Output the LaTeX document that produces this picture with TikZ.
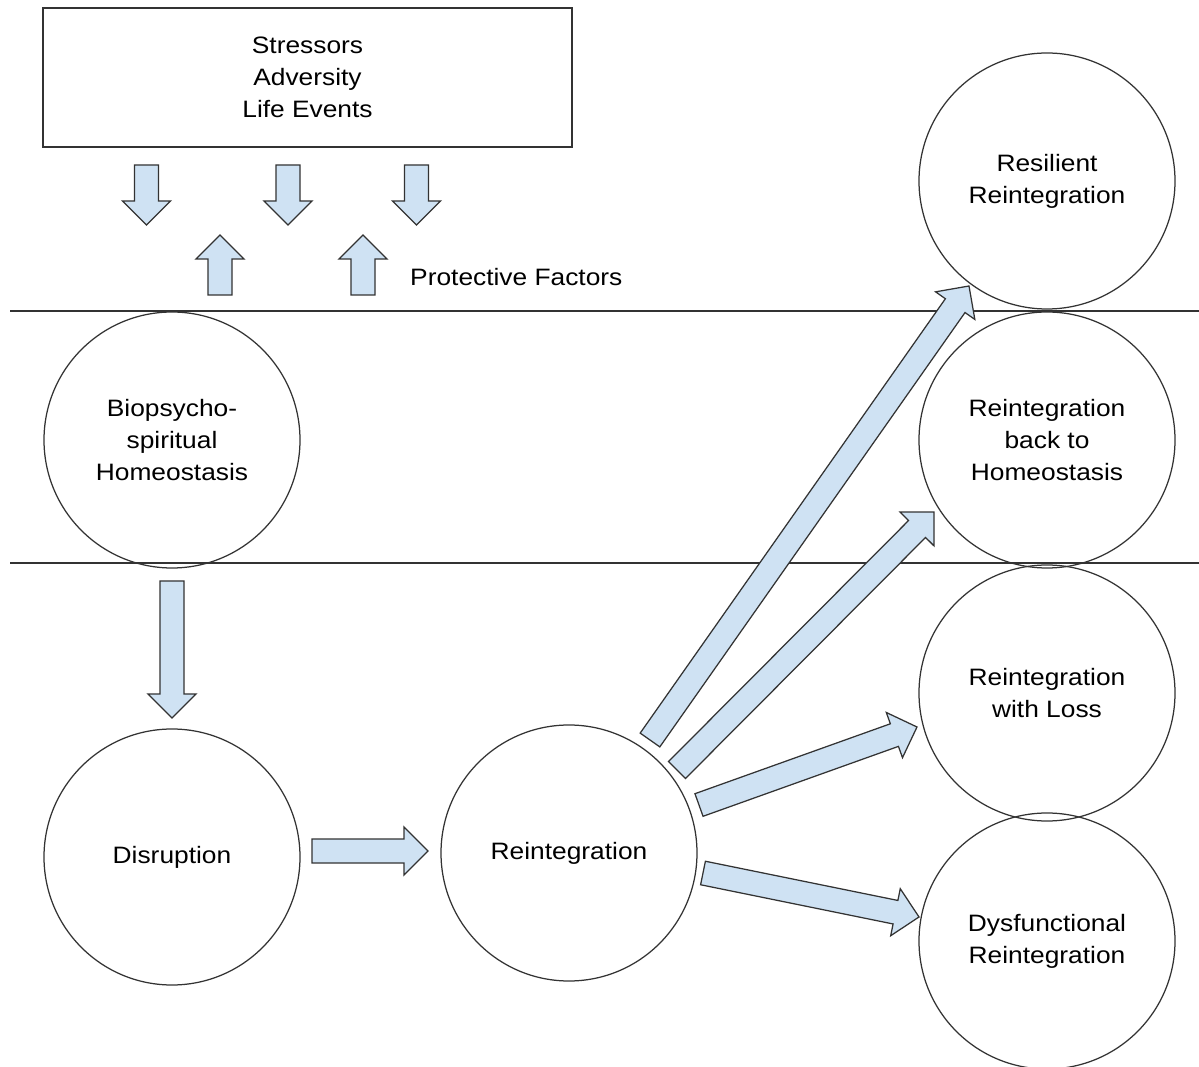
\documentclass[tikz,border=0pt]{standalone}
\usepackage{fontspec}
\setmainfont{Liberation Sans}[FakeStretch=1.11]
\usetikzlibrary{calc}

\definecolor{arrowfill}{HTML}{CFE2F3}
\definecolor{inkgray}{HTML}{333333}

% fat block arrow from #1 to #2
\newcommand{\blockarrow}[2]{%
  \coordinate (bh) at ($(#2)!4.8mm!(#1)$);
  \draw[fat] ($(#1)!2.4mm!90:(#2)$) -- ($(bh)!2.4mm!90:(#2)$) -- ($(bh)!4.8mm!90:(#2)$) -- (#2)
    -- ($(bh)!4.8mm!-90:(#2)$) -- ($(bh)!2.4mm!-90:(#2)$) -- ($(#1)!2.4mm!-90:(#2)$) -- cycle;
}

\begin{document}
\begin{tikzpicture}[
        x=0.2mm, y=-0.2mm,
        font=\fontsize{13.5}{18.2}\selectfont,
        state/.style={draw=inkgray, line width=0.25mm, circle, minimum size=51.2mm, inner sep=0pt, align=center},
        topbox/.style={draw=inkgray, line width=0.3mm, rectangle, minimum width=105.8mm, minimum height=27.8mm, align=center},
        fat/.style={draw=inkgray, fill=arrowfill, line width=0.25mm, line join=miter},
        band/.style={inkgray, line width=0.3mm}
    ]
        \useasboundingbox (0,0) rectangle (1199,1067);

        \node[topbox] (stress) at (307.5,77.5) {Stressors\\Adversity\\Life Events};
        \node[anchor=west] (protect) at (404,277) {Protective Factors};

        \draw[band] (10,311) -- (1199,311);
        \draw[band] (10,563) -- (1199,563);

        \node[state] (homeo) at (172,440) {Biopsycho-\\spiritual\\Homeostasis};
        \node[state] (disrupt) at (172,857) {Disruption};
        \node[state] (reint) at (569,853) {Reintegration};
        \node[state] (resil) at (1047,181) {Resilient\\Reintegration};
        \node[state] (back) at (1047,440) {Reintegration\\back to\\Homeostasis};
        \node[state] (loss) at (1047,693) {Reintegration\\with Loss};
        \node[state] (dysf) at (1047,941) {Dysfunctional\\Reintegration};

        % stressors and protective factors
        \coordinate (s1a) at (146.5,165); \coordinate (s1b) at (146.5,225);
        \coordinate (s2a) at (288,165);   \coordinate (s2b) at (288,225);
        \coordinate (s3a) at (416.5,165); \coordinate (s3b) at (416.5,225);
        \coordinate (p1a) at (220,295);   \coordinate (p1b) at (220,235);
        \coordinate (p2a) at (363,295);   \coordinate (p2b) at (363,235);

        % process
        \coordinate (hd) at (172,581);    \coordinate (dt) at (172,718);
        \coordinate (dr) at (312,851);    \coordinate (rl) at (428,851);

        % outcomes
        \coordinate (o1a) at (650,740);   \coordinate (o1b) at (969,286);
        \coordinate (o2a) at (677,770);   \coordinate (o2b) at (934,512);
        \coordinate (o3a) at (699,805);   \coordinate (o3b) at (917,727);
        \coordinate (o4a) at (703,873);   \coordinate (o4b) at (919,917);

        \foreach \a/\b in {s1a/s1b, s2a/s2b, s3a/s3b, p1a/p1b, p2a/p2b, hd/dt, dr/rl, o1a/o1b, o2a/o2b, o3a/o3b, o4a/o4b}
            {\blockarrow{\a}{\b}}
    \end{tikzpicture}
\end{document}
